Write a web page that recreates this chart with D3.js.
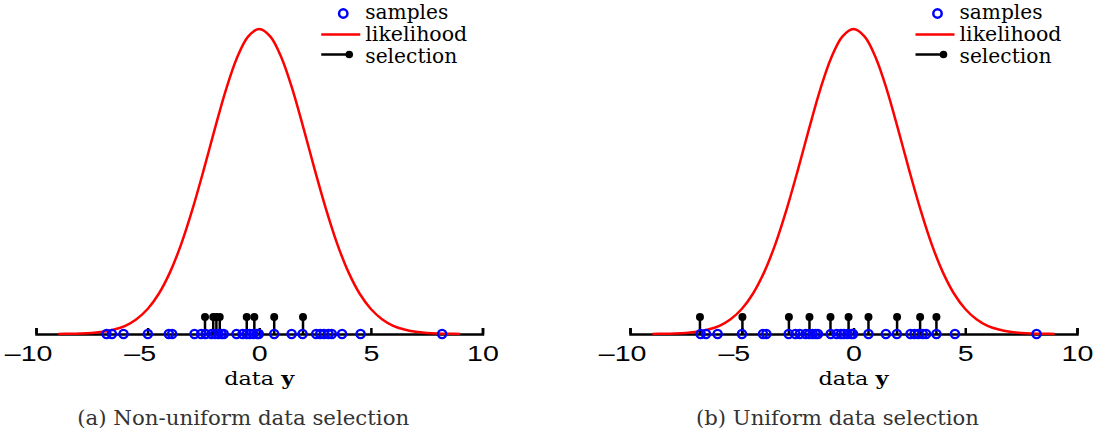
<!DOCTYPE html>
<html>
<head>
<meta charset="utf-8">
<script src="https://cdn.jsdelivr.net/npm/d3@7"></script>
<style>
body { margin: 0; background: #fff; }
svg text { font-family: "DejaVu Serif", "Liberation Serif", serif; }
.axis text { font-family: "Liberation Sans", Arial, sans-serif; font-size: 22px; fill: #000; }
</style>
</head>
<body>
<svg width="1096" height="435"></svg>
<script>
// samples drawn on the data axis (same set in both panels)
const samples = [-6.84, -6.6, -6.08, -4.99, -4.05, -3.9, -2.9, -2.6, -2.4, -2.14, -1.98, -1.83,
    -1.69, -1.59, -1.02, -0.75, -0.56, -0.43, -0.27, -0.1, -0.02, 0.67, 1.45, 1.94, 2.55,
    2.73, 2.9, 3.1, 3.25, 3.71, 4.54, 8.19];

// selected samples, panel (a) and panel (b)
const selectionA = [-2.43, -2.06, -1.92, -1.77, -0.56, -0.22, 0.67, 1.96];
const selectionB = [-6.87, -4.97, -2.89, -1.97, -1.03, -0.22, 0.67, 1.95, 2.98, 3.71];
const stemHeight = 0.056;

// likelihood curve (relative height, peak = 1)
const curveX = [-9, -8.5, -8, -7.5, -7, -6.5, -6, -5.5, -5, -4.5, -4, -3.5, -3, -2.5, -2, -1.5, -1, -0.5,
    0, 0.5, 1, 1.5, 2, 2.5, 3, 3.5, 4, 4.5, 5, 5.5, 6, 6.5, 7, 7.5, 8, 8.5, 9];
const curveY = [0.0003, 0.0007, 0.0017, 0.0036, 0.0074, 0.0146, 0.027, 0.0486, 0.082, 0.132, 0.202,
    0.294, 0.407, 0.535, 0.670, 0.799, 0.905, 0.975, 1, 0.975, 0.905, 0.799, 0.670, 0.535, 0.407,
    0.294, 0.202, 0.132, 0.082, 0.0486, 0.027, 0.0146, 0.0074, 0.0036, 0.0017, 0.0007, 0.0003];

const tickValues = [-10, -5, 0, 5, 10];
const tickLabels = ["\u201310", "\u20135", "0", "5", "10"];
const legendLabels = ["samples", "likelihood", "selection"];
const captions = ["(a) Non-uniform data selection", "(b) Uniform data selection"];

const svg = d3.select("svg");

const panels = [
    { x0: 36, x1: 482.5, sel: selectionA, caption: captions[0], capLen: 332 },
    { x0: 630, x1: 1077, sel: selectionB, caption: captions[1], capLen: 283 }
];

const y = d3.scaleLinear().domain([0, 1]).range([334, 29]);

panels.forEach(p => {
    const x = d3.scaleLinear().domain([-10, 10]).range([p.x0, p.x1]);
    const g = svg.append("g");

    // axis with ticks pointing up
    const axis = g.append("g")
        .attr("class", "axis")
        .attr("transform", `translate(0,${y(0)})`)
        .call(d3.axisBottom(x)
            .tickValues(tickValues)
            .tickFormat((d, i) => tickLabels[i])
            .tickSize(-6)
            .tickPadding(11));
    axis.select(".domain").attr("stroke-width", 2.5);
    axis.selectAll(".tick line").attr("stroke-width", 2.5);
    // digits centred on the tick, minus sign hanging to the left; labels drawn wider
    axis.selectAll(".tick text")
        .attr("transform", "scale(1.3,1)")
        .attr("dx", d => d < 0 ? -6.1 : 0);

    // likelihood
    const line = d3.line()
        .x((d, i) => x(curveX[i]))
        .y(d => y(d))
        .curve(d3.curveCatmullRom);
    g.append("path")
        .datum(curveY)
        .attr("d", line)
        .attr("fill", "none")
        .attr("stroke", "#ff0000")
        .attr("stroke-width", 2.5);

    // selection stems
    g.selectAll(".stem")
        .data(p.sel)
        .enter().append("line")
        .attr("class", "stem")
        .attr("x1", d => x(d)).attr("x2", d => x(d))
        .attr("y1", y(0)).attr("y2", y(stemHeight))
        .attr("stroke", "#000")
        .attr("stroke-width", 2.5);
    g.selectAll(".stemdot")
        .data(p.sel)
        .enter().append("circle")
        .attr("class", "stemdot")
        .attr("cx", d => x(d))
        .attr("cy", y(stemHeight))
        .attr("r", 4)
        .attr("fill", "#000");

    // samples
    g.selectAll(".sample")
        .data(samples)
        .enter().append("circle")
        .attr("class", "sample")
        .attr("cx", d => x(d))
        .attr("cy", y(0))
        .attr("r", 4.1)
        .attr("fill", "none")
        .attr("stroke", "#0000ff")
        .attr("stroke-width", 2.4);

    // x label
    const xl = g.append("text")
        .attr("x", x(0))
        .attr("y", 385)
        .attr("text-anchor", "middle")
        .attr("font-size", 19)
        .attr("textLength", 70)
        .attr("lengthAdjust", "spacingAndGlyphs");
    xl.append("tspan").text("data ");
    xl.append("tspan").attr("font-weight", "bold").text("y");

    // caption
    g.append("text")
        .attr("x", (p.x0 + p.x1) / 2 - 16)
        .attr("y", 425)
        .attr("text-anchor", "middle")
        .attr("font-size", 20)
        .attr("fill", "#333")
        .attr("textLength", p.capLen)
        .attr("lengthAdjust", "spacingAndGlyphs")
        .text(p.caption);

    // legend
    const lx = x(0) + 62;
    const leg = g.append("g").attr("transform", `translate(${lx},0)`);
    leg.append("circle").attr("cx", 22).attr("cy", 13.5).attr("r", 4.2)
        .attr("fill", "none").attr("stroke", "#0000ff").attr("stroke-width", 2.5);
    leg.append("line").attr("x1", 0).attr("x2", 39).attr("y1", 34.5).attr("y2", 34.5)
        .attr("stroke", "#ff0000").attr("stroke-width", 2.5);
    leg.append("line").attr("x1", 0).attr("x2", 28).attr("y1", 54.5).attr("y2", 54.5)
        .attr("stroke", "#000").attr("stroke-width", 2.5);
    leg.append("circle").attr("cx", 28).attr("cy", 54.5).attr("r", 3.8).attr("fill", "#000");
    const legLen = [83, 102, 92];
    leg.selectAll(".lt")
        .data(legendLabels)
        .enter().append("text")
        .attr("class", "lt")
        .attr("x", 44)
        .attr("y", (d, i) => 19 + i * 22)
        .attr("font-size", 20)
        .attr("textLength", (d, i) => legLen[i])
        .attr("lengthAdjust", "spacingAndGlyphs")
        .text(d => d);
});
</script>
</body>
</html>
